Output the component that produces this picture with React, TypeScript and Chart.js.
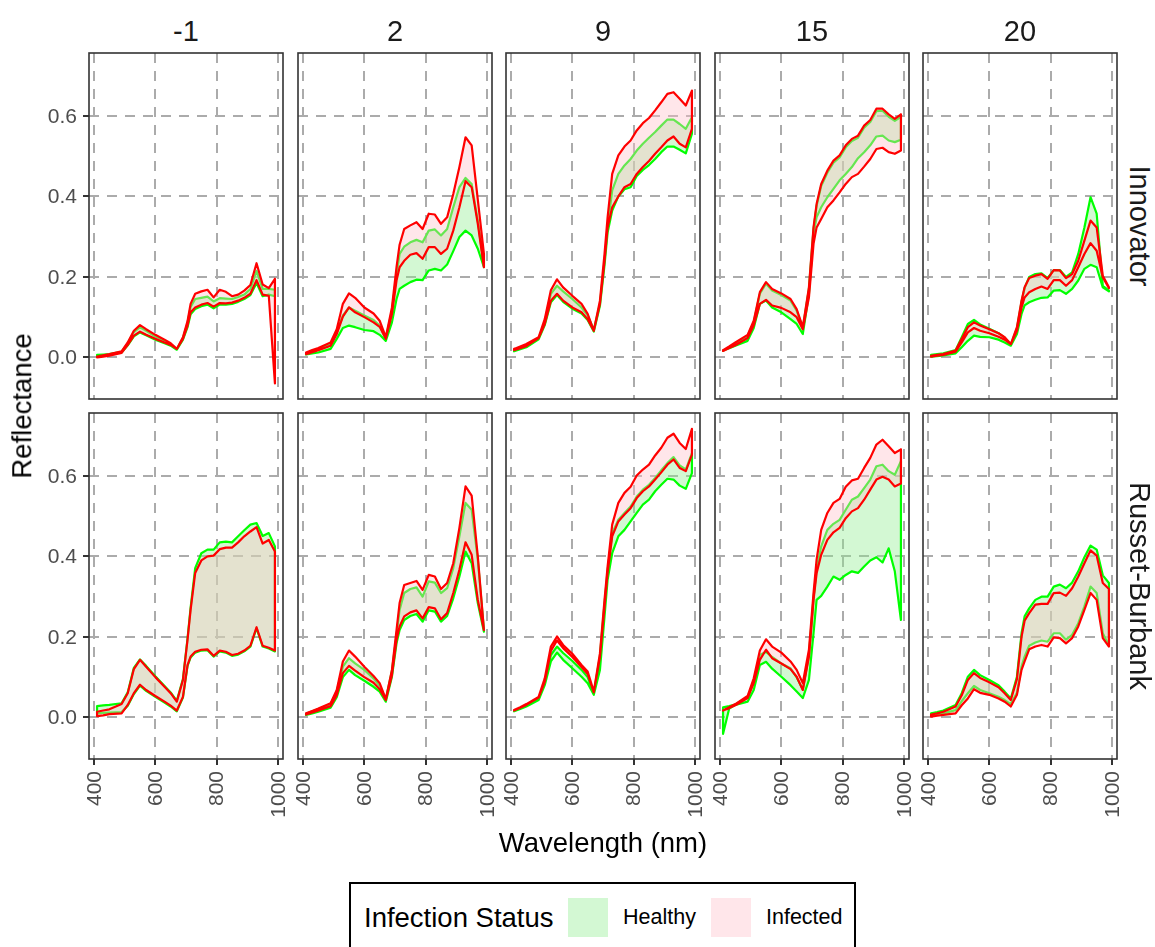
import React, { useEffect, useRef } from "react";
import { Chart, registerables } from "chart.js";

Chart.register(...registerables);

// ---------------- data ----------------
const WAVELENGTHS = [410, 430, 450, 490, 510, 530, 550, 570, 600, 630, 650, 670, 690, 705, 715, 730, 750, 770, 790, 810, 830, 850, 870, 890, 910, 930, 950, 970, 990];

const COLUMN_LABELS = ["-1", "2", "9", "15", "20"];
const ROW_LABELS = ["Innovator", "Russet-Burbank"];
const X_TICKS = [400, 600, 800, 1000];
const X_TICK_LABELS = ["400", "600", "800", "1000"];
const Y_TICKS = [0, 0.2, 0.4, 0.6];
const Y_TICK_LABELS = ["0.0", "0.2", "0.4", "0.6"];
const LEGEND_TITLE = "Infection Status";
const STATUS_LABELS = ["Healthy", "Infected"];

// Innovator, -1
const INN_M1_I_HI = [0.002, 0.005, 0.008, 0.015, 0.037, 0.066, 0.080, 0.070, 0.056, 0.044, 0.035, 0.021, 0.050, 0.090, 0.133, 0.158, 0.164, 0.168, 0.149, 0.168, 0.163, 0.152, 0.156, 0.166, 0.180, 0.234, 0.181, 0.172, 0.195];
const INN_M1_I_LO = [0.000, 0.002, 0.004, 0.011, 0.031, 0.054, 0.064, 0.056, 0.046, 0.037, 0.031, 0.021, 0.046, 0.079, 0.112, 0.124, 0.131, 0.135, 0.126, 0.135, 0.134, 0.136, 0.141, 0.148, 0.158, 0.192, 0.156, 0.153, -0.065];
const INN_M1_H_HI = [0.004, 0.006, 0.008, 0.014, 0.035, 0.063, 0.075, 0.066, 0.052, 0.041, 0.033, 0.020, 0.048, 0.085, 0.125, 0.145, 0.148, 0.151, 0.139, 0.147, 0.146, 0.145, 0.150, 0.156, 0.170, 0.215, 0.170, 0.170, 0.168];
const INN_M1_H_LO = [0.006, 0.007, 0.008, 0.012, 0.030, 0.052, 0.062, 0.055, 0.044, 0.035, 0.029, 0.019, 0.044, 0.075, 0.107, 0.120, 0.127, 0.131, 0.122, 0.131, 0.131, 0.133, 0.138, 0.145, 0.155, 0.185, 0.152, 0.156, 0.152];

// Innovator, 2
const INN_2_I_HI = [0.012, 0.018, 0.023, 0.037, 0.070, 0.133, 0.159, 0.148, 0.124, 0.109, 0.091, 0.050, 0.124, 0.224, 0.280, 0.319, 0.328, 0.336, 0.319, 0.357, 0.355, 0.332, 0.348, 0.406, 0.473, 0.547, 0.527, 0.392, 0.257];
const INN_2_I_LO = [0.008, 0.013, 0.018, 0.029, 0.058, 0.101, 0.124, 0.112, 0.100, 0.087, 0.076, 0.046, 0.108, 0.191, 0.224, 0.240, 0.255, 0.259, 0.245, 0.274, 0.274, 0.257, 0.270, 0.315, 0.373, 0.438, 0.423, 0.332, 0.224];
const INN_2_H_HI = [0.010, 0.015, 0.020, 0.032, 0.062, 0.104, 0.124, 0.116, 0.104, 0.093, 0.079, 0.047, 0.116, 0.207, 0.257, 0.275, 0.286, 0.292, 0.286, 0.315, 0.318, 0.303, 0.319, 0.373, 0.423, 0.446, 0.431, 0.340, 0.226];
const INN_2_H_LO = [0.007, 0.010, 0.012, 0.021, 0.046, 0.073, 0.079, 0.075, 0.068, 0.065, 0.056, 0.041, 0.087, 0.145, 0.170, 0.178, 0.187, 0.193, 0.192, 0.216, 0.220, 0.216, 0.231, 0.264, 0.299, 0.315, 0.303, 0.270, 0.224];

// Innovator, 9
const INN_9_I_HI = [0.021, 0.027, 0.033, 0.050, 0.095, 0.167, 0.194, 0.174, 0.153, 0.133, 0.108, 0.066, 0.141, 0.257, 0.348, 0.456, 0.502, 0.524, 0.539, 0.564, 0.582, 0.595, 0.614, 0.634, 0.655, 0.659, 0.643, 0.626, 0.663];
const INN_9_I_LO = [0.018, 0.023, 0.028, 0.048, 0.083, 0.141, 0.158, 0.141, 0.124, 0.112, 0.095, 0.066, 0.133, 0.240, 0.323, 0.373, 0.400, 0.423, 0.431, 0.456, 0.473, 0.488, 0.506, 0.522, 0.539, 0.549, 0.531, 0.522, 0.568];
const INN_9_H_HI = [0.018, 0.024, 0.030, 0.047, 0.088, 0.158, 0.178, 0.164, 0.145, 0.124, 0.104, 0.068, 0.133, 0.240, 0.323, 0.415, 0.456, 0.477, 0.493, 0.514, 0.531, 0.546, 0.560, 0.576, 0.591, 0.591, 0.580, 0.568, 0.597];
const INN_9_H_LO = [0.015, 0.020, 0.025, 0.045, 0.080, 0.137, 0.155, 0.138, 0.121, 0.109, 0.093, 0.064, 0.128, 0.230, 0.310, 0.365, 0.400, 0.418, 0.423, 0.451, 0.466, 0.478, 0.493, 0.510, 0.524, 0.524, 0.516, 0.507, 0.556];

// Innovator, 15
const INN_15_I_HI = [0.018, 0.027, 0.037, 0.056, 0.091, 0.162, 0.187, 0.170, 0.159, 0.145, 0.120, 0.075, 0.174, 0.323, 0.381, 0.431, 0.464, 0.489, 0.502, 0.527, 0.543, 0.551, 0.576, 0.590, 0.618, 0.618, 0.604, 0.593, 0.604];
const INN_15_I_LO = [0.016, 0.023, 0.030, 0.048, 0.080, 0.133, 0.143, 0.129, 0.123, 0.112, 0.100, 0.070, 0.149, 0.282, 0.323, 0.344, 0.373, 0.390, 0.410, 0.431, 0.448, 0.456, 0.474, 0.493, 0.518, 0.521, 0.510, 0.506, 0.514];
const INN_15_H_HI = [0.016, 0.025, 0.034, 0.053, 0.087, 0.158, 0.183, 0.166, 0.155, 0.141, 0.116, 0.072, 0.170, 0.318, 0.376, 0.426, 0.459, 0.484, 0.497, 0.522, 0.538, 0.546, 0.571, 0.585, 0.612, 0.613, 0.598, 0.588, 0.598];
const INN_15_H_LO = [0.017, 0.023, 0.029, 0.041, 0.073, 0.133, 0.141, 0.124, 0.112, 0.095, 0.083, 0.058, 0.158, 0.307, 0.348, 0.373, 0.398, 0.419, 0.440, 0.456, 0.473, 0.495, 0.510, 0.527, 0.549, 0.551, 0.539, 0.535, 0.541];

// Innovator, 20
const INN_20_I_HI = [0.004, 0.006, 0.008, 0.017, 0.046, 0.075, 0.087, 0.079, 0.070, 0.060, 0.050, 0.033, 0.075, 0.141, 0.174, 0.197, 0.203, 0.207, 0.195, 0.217, 0.216, 0.197, 0.207, 0.240, 0.290, 0.340, 0.323, 0.203, 0.174];
const INN_20_I_LO = [0.002, 0.004, 0.006, 0.014, 0.037, 0.062, 0.073, 0.066, 0.060, 0.051, 0.044, 0.033, 0.066, 0.124, 0.149, 0.162, 0.170, 0.176, 0.170, 0.192, 0.192, 0.178, 0.192, 0.224, 0.257, 0.284, 0.265, 0.199, 0.172];
const INN_20_H_HI = [0.006, 0.008, 0.010, 0.018, 0.050, 0.083, 0.093, 0.082, 0.071, 0.060, 0.049, 0.031, 0.072, 0.138, 0.172, 0.200, 0.207, 0.209, 0.197, 0.217, 0.217, 0.200, 0.211, 0.257, 0.323, 0.398, 0.357, 0.178, 0.166];
const INN_20_H_LO = [0.002, 0.003, 0.005, 0.010, 0.025, 0.041, 0.054, 0.051, 0.050, 0.044, 0.037, 0.029, 0.058, 0.108, 0.129, 0.137, 0.143, 0.148, 0.149, 0.166, 0.167, 0.158, 0.170, 0.191, 0.220, 0.230, 0.224, 0.174, 0.164];

// Russet-Burbank, -1
const RUS_M1_I_HI = [0.014, 0.017, 0.020, 0.033, 0.060, 0.120, 0.143, 0.126, 0.100, 0.076, 0.060, 0.039, 0.093, 0.193, 0.267, 0.359, 0.390, 0.400, 0.402, 0.418, 0.422, 0.422, 0.435, 0.450, 0.462, 0.473, 0.432, 0.441, 0.412];
const RUS_M1_I_LO = [0.003, 0.005, 0.008, 0.010, 0.031, 0.060, 0.081, 0.068, 0.053, 0.039, 0.029, 0.017, 0.051, 0.130, 0.151, 0.163, 0.168, 0.169, 0.153, 0.166, 0.163, 0.155, 0.158, 0.166, 0.178, 0.224, 0.178, 0.173, 0.166];
const RUS_M1_H_HI = [0.028, 0.030, 0.031, 0.035, 0.062, 0.123, 0.144, 0.128, 0.102, 0.078, 0.062, 0.041, 0.095, 0.196, 0.272, 0.371, 0.408, 0.417, 0.417, 0.435, 0.437, 0.435, 0.450, 0.465, 0.479, 0.483, 0.451, 0.458, 0.425];
const RUS_M1_H_LO = [0.010, 0.011, 0.012, 0.013, 0.029, 0.058, 0.079, 0.066, 0.051, 0.037, 0.027, 0.015, 0.049, 0.128, 0.149, 0.161, 0.166, 0.167, 0.151, 0.164, 0.161, 0.153, 0.156, 0.164, 0.176, 0.222, 0.176, 0.171, 0.164];

// Russet-Burbank, 2
const RUS_2_I_HI = [0.010, 0.016, 0.022, 0.035, 0.068, 0.139, 0.166, 0.151, 0.126, 0.103, 0.085, 0.045, 0.118, 0.217, 0.284, 0.329, 0.334, 0.339, 0.317, 0.354, 0.350, 0.319, 0.334, 0.383, 0.471, 0.574, 0.551, 0.400, 0.217];
const RUS_2_I_LO = [0.007, 0.012, 0.017, 0.028, 0.055, 0.110, 0.128, 0.116, 0.100, 0.086, 0.070, 0.043, 0.105, 0.193, 0.226, 0.251, 0.261, 0.266, 0.246, 0.274, 0.271, 0.244, 0.259, 0.309, 0.367, 0.435, 0.404, 0.292, 0.217];
const RUS_2_H_HI = [0.009, 0.015, 0.020, 0.033, 0.064, 0.126, 0.147, 0.134, 0.118, 0.097, 0.078, 0.045, 0.115, 0.205, 0.267, 0.309, 0.319, 0.323, 0.300, 0.338, 0.335, 0.309, 0.321, 0.371, 0.450, 0.533, 0.516, 0.392, 0.217];
const RUS_2_H_LO = [0.006, 0.010, 0.014, 0.024, 0.050, 0.100, 0.118, 0.105, 0.091, 0.076, 0.064, 0.039, 0.101, 0.184, 0.217, 0.242, 0.252, 0.257, 0.238, 0.266, 0.263, 0.238, 0.252, 0.296, 0.350, 0.412, 0.383, 0.284, 0.213];

// Russet-Burbank, 9
const RUS_9_I_HI = [0.018, 0.025, 0.033, 0.051, 0.097, 0.176, 0.201, 0.180, 0.158, 0.130, 0.114, 0.064, 0.159, 0.292, 0.375, 0.479, 0.533, 0.558, 0.573, 0.601, 0.616, 0.628, 0.651, 0.670, 0.695, 0.705, 0.682, 0.667, 0.717];
const RUS_9_I_LO = [0.017, 0.024, 0.031, 0.049, 0.088, 0.165, 0.191, 0.172, 0.150, 0.125, 0.108, 0.062, 0.150, 0.275, 0.360, 0.450, 0.487, 0.504, 0.520, 0.545, 0.562, 0.574, 0.591, 0.609, 0.628, 0.641, 0.620, 0.612, 0.653];
const RUS_9_H_HI = [0.016, 0.022, 0.029, 0.046, 0.085, 0.155, 0.176, 0.160, 0.140, 0.118, 0.100, 0.060, 0.152, 0.283, 0.365, 0.458, 0.491, 0.508, 0.524, 0.549, 0.566, 0.578, 0.595, 0.614, 0.632, 0.647, 0.626, 0.616, 0.657];
const RUS_9_H_LO = [0.015, 0.021, 0.027, 0.043, 0.080, 0.139, 0.161, 0.143, 0.122, 0.101, 0.085, 0.056, 0.118, 0.251, 0.342, 0.408, 0.450, 0.466, 0.487, 0.508, 0.529, 0.541, 0.562, 0.578, 0.593, 0.591, 0.576, 0.568, 0.607];

// Russet-Burbank, 15
const RUS_15_I_HI = [0.017, 0.025, 0.033, 0.053, 0.097, 0.166, 0.194, 0.176, 0.161, 0.139, 0.118, 0.085, 0.168, 0.309, 0.392, 0.466, 0.508, 0.533, 0.543, 0.573, 0.589, 0.593, 0.620, 0.645, 0.678, 0.690, 0.674, 0.657, 0.666];
const RUS_15_I_LO = [0.017, 0.023, 0.030, 0.048, 0.085, 0.143, 0.168, 0.147, 0.134, 0.120, 0.101, 0.068, 0.151, 0.292, 0.358, 0.404, 0.441, 0.460, 0.471, 0.495, 0.512, 0.520, 0.541, 0.566, 0.591, 0.598, 0.591, 0.574, 0.581];
const RUS_15_H_HI = [0.025, 0.028, 0.032, 0.050, 0.090, 0.155, 0.163, 0.150, 0.134, 0.122, 0.100, 0.070, 0.155, 0.297, 0.370, 0.425, 0.466, 0.481, 0.491, 0.516, 0.541, 0.549, 0.570, 0.591, 0.624, 0.628, 0.612, 0.603, 0.637];
const RUS_15_H_LO = [-0.041, 0.022, 0.031, 0.039, 0.068, 0.130, 0.138, 0.121, 0.101, 0.080, 0.064, 0.048, 0.093, 0.209, 0.292, 0.302, 0.325, 0.350, 0.342, 0.354, 0.363, 0.359, 0.375, 0.390, 0.398, 0.385, 0.420, 0.363, 0.242];

// Russet-Burbank, 20
const RUS_20_I_HI = [0.007, 0.010, 0.014, 0.027, 0.055, 0.093, 0.110, 0.098, 0.087, 0.075, 0.060, 0.043, 0.095, 0.200, 0.240, 0.259, 0.280, 0.282, 0.282, 0.309, 0.310, 0.302, 0.321, 0.350, 0.383, 0.415, 0.402, 0.334, 0.319];
const RUS_20_I_LO = [0.002, 0.004, 0.006, 0.010, 0.030, 0.047, 0.070, 0.061, 0.056, 0.047, 0.039, 0.027, 0.056, 0.118, 0.139, 0.169, 0.176, 0.180, 0.176, 0.199, 0.197, 0.184, 0.197, 0.226, 0.267, 0.309, 0.292, 0.197, 0.176];
const RUS_20_H_HI = [0.010, 0.013, 0.017, 0.031, 0.060, 0.101, 0.118, 0.105, 0.093, 0.080, 0.064, 0.047, 0.101, 0.209, 0.251, 0.271, 0.292, 0.300, 0.300, 0.325, 0.330, 0.321, 0.335, 0.363, 0.398, 0.427, 0.417, 0.353, 0.334];
const RUS_20_H_LO = [0.006, 0.008, 0.010, 0.018, 0.040, 0.060, 0.078, 0.068, 0.060, 0.051, 0.043, 0.033, 0.061, 0.126, 0.151, 0.178, 0.186, 0.191, 0.188, 0.209, 0.209, 0.193, 0.205, 0.234, 0.276, 0.325, 0.309, 0.209, 0.178];

type PanelData = { hHi: number[]; hLo: number[]; iHi: number[]; iLo: number[] };

const PANELS: PanelData[][] = [
  [
    { hHi: INN_M1_H_HI, hLo: INN_M1_H_LO, iHi: INN_M1_I_HI, iLo: INN_M1_I_LO },
    { hHi: INN_2_H_HI, hLo: INN_2_H_LO, iHi: INN_2_I_HI, iLo: INN_2_I_LO },
    { hHi: INN_9_H_HI, hLo: INN_9_H_LO, iHi: INN_9_I_HI, iLo: INN_9_I_LO },
    { hHi: INN_15_H_HI, hLo: INN_15_H_LO, iHi: INN_15_I_HI, iLo: INN_15_I_LO },
    { hHi: INN_20_H_HI, hLo: INN_20_H_LO, iHi: INN_20_I_HI, iLo: INN_20_I_LO },
  ],
  [
    { hHi: RUS_M1_H_HI, hLo: RUS_M1_H_LO, iHi: RUS_M1_I_HI, iLo: RUS_M1_I_LO },
    { hHi: RUS_2_H_HI, hLo: RUS_2_H_LO, iHi: RUS_2_I_HI, iLo: RUS_2_I_LO },
    { hHi: RUS_9_H_HI, hLo: RUS_9_H_LO, iHi: RUS_9_I_HI, iLo: RUS_9_I_LO },
    { hHi: RUS_15_H_HI, hLo: RUS_15_H_LO, iHi: RUS_15_I_HI, iLo: RUS_15_I_LO },
    { hHi: RUS_20_H_HI, hLo: RUS_20_H_LO, iHi: RUS_20_I_HI, iLo: RUS_20_I_LO },
  ],
];

// ---------------- layout & style ----------------
const FONT = "'Liberation Sans', Arial, Helvetica, sans-serif";
const COL_LEFT = [89, 298, 506, 715, 923];
const ROW_TOP = [53, 413];
const PANEL_W = 194;
const PANEL_H = 346;
const PADL = 80;
const PADR = 4;
const PADT = 4;
const PADB = 75;
const CW = PANEL_W + PADL + PADR;
const CH = PANEL_H + PADT + PADB;
const X_MIN = 383.7;
const X_MAX = 1016.3;
const Y_MIN = -0.1035;
const Y_MAX = 0.7565;

const GREEN = "#00FF00";
const RED = "#FF0000";
const HEALTHY_FILL = "rgba(144,238,144,0.4)";
const INFECTED_FILL = "rgba(255,192,203,0.4)";
const HEALTHY_KEY = "rgb(211,248,211)";
const INFECTED_KEY = "rgb(255,230,234)";
const GRID = "#ABABAB";
const LINE_W = 2.2;
const TICK_FONT = 21;

const decorPlugin = {
  id: "panelDecor",
  afterDraw(chart: any, _args: any, opts: any) {
    const { ctx, chartArea: a, scales } = chart;
    ctx.save();
    ctx.strokeStyle = "#333333";
    ctx.lineWidth = 1.6;
    ctx.setLineDash([]);
    ctx.strokeRect(a.left, a.top, a.right - a.left, a.bottom - a.top);
    ctx.fillStyle = "#4D4D4D";
    ctx.font = `${TICK_FONT}px ${FONT}`;
    if (opts.showY) {
      ctx.textAlign = "right";
      ctx.textBaseline = "middle";
      Y_TICKS.forEach((v, i) => {
        const y = scales.y.getPixelForValue(v);
        ctx.fillText(Y_TICK_LABELS[i], a.left - 12, y + 1);
      });
    }
    if (opts.showX) {
      X_TICKS.forEach((v, i) => {
        const x = scales.x.getPixelForValue(v);
        ctx.save();
        ctx.translate(x + 1, a.bottom + 12);
        ctx.rotate(-Math.PI / 2);
        ctx.textAlign = "right";
        ctx.textBaseline = "middle";
        ctx.fillText(X_TICK_LABELS[i], 0, 0);
        ctx.restore();
      });
    }
    ctx.restore();
  },
};

function pts(arr: number[]) {
  return arr.map((y, i) => ({ x: WAVELENGTHS[i], y }));
}
function ring(hi: number[], lo: number[]) {
  return [...pts(hi), ...pts(lo).reverse(), { x: WAVELENGTHS[0], y: hi[0] }];
}

function buildConfig(p: PanelData, showX: boolean, showY: boolean): any {
  const hidden = "rgba(0,0,0,0)";
  const outline = (color: string) => ({
    borderColor: color,
    borderWidth: LINE_W,
    borderJoinStyle: "round",
    borderCapStyle: "round",
    fill: false,
    pointRadius: 0,
    tension: 0,
  });
  const band = (fill: string | false, bg: string) => ({
    borderColor: hidden,
    borderWidth: 0,
    backgroundColor: bg,
    fill,
    pointRadius: 0,
    tension: 0,
  });
  return {
    type: "line",
    data: {
      datasets: [
        { label: "Infected outline", data: ring(p.iHi, p.iLo), ...outline(RED) },
        { label: "Infected upper", data: pts(p.iHi), ...band("+1", INFECTED_FILL) },
        { label: "Infected lower", data: pts(p.iLo), ...band(false, hidden) },
        { label: "Healthy outline", data: ring(p.hHi, p.hLo), ...outline(GREEN) },
        { label: "Healthy upper", data: pts(p.hHi), ...band("+1", HEALTHY_FILL) },
        { label: "Healthy lower", data: pts(p.hLo), ...band(false, hidden) },
      ],
    },
    plugins: [decorPlugin],
    options: {
      responsive: false,
      animation: false,
      devicePixelRatio: 1,
      events: [],
      layout: { padding: { top: PADT, right: PADR, left: 0, bottom: 0 } },
      plugins: {
        legend: { display: false },
        tooltip: { enabled: false },
        panelDecor: { showX, showY },
      },
      scales: {
        x: {
          type: "linear",
          min: X_MIN,
          max: X_MAX,
          afterBuildTicks: (s: any) => {
            s.ticks = X_TICKS.map((v) => ({ value: v }));
          },
          afterFit: (s: any) => {
            s.height = PADB;
            s.paddingLeft = 0;
            s.paddingRight = 0;
          },
          ticks: { display: false },
          grid: {
            color: GRID,
            lineWidth: 2,
            drawTicks: showX,
            tickLength: 6,
            tickColor: "#333333",
            tickWidth: 2,
            tickBorderDash: [],
          },
          border: { display: false, dash: [10, 8] },
        },
        y: {
          type: "linear",
          min: Y_MIN,
          max: Y_MAX,
          afterBuildTicks: (s: any) => {
            s.ticks = Y_TICKS.map((v) => ({ value: v }));
          },
          afterFit: (s: any) => {
            s.width = PADL;
            s.paddingTop = 0;
            s.paddingBottom = 0;
          },
          ticks: { display: false },
          grid: {
            color: GRID,
            lineWidth: 2,
            drawTicks: showY,
            tickLength: 6,
            tickColor: "#333333",
            tickWidth: 2,
            tickBorderDash: [],
          },
          border: { display: false, dash: [10, 8] },
        },
      },
    },
  };
}

function Panel(props: { data: PanelData; left: number; top: number; showX: boolean; showY: boolean }) {
  const ref = useRef<HTMLCanvasElement | null>(null);
  useEffect(() => {
    if (!ref.current) return;
    const chart = new Chart(ref.current, buildConfig(props.data, props.showX, props.showY));
    return () => chart.destroy();
  }, []);
  return (
    <canvas
      ref={ref}
      width={CW}
      height={CH}
      style={{ position: "absolute", left: props.left - PADL, top: props.top - PADT, width: CW, height: CH }}
    />
  );
}

function Label(props: { text: string; x: number; y: number; size: number; rotate?: number; color?: string; align?: "center" | "left" }) {
  const { text, x, y, size, rotate = 0, color = "#000", align = "center" } = props;
  const tx = align === "center" ? "-50%" : "0";
  return (
    <div
      style={{
        position: "absolute",
        left: x,
        top: y,
        transform: `translate(${tx}, -50%) rotate(${rotate}deg)`,
        fontFamily: FONT,
        fontSize: size,
        lineHeight: 1,
        color,
        whiteSpace: "nowrap",
      }}
    >
      {text}
    </div>
  );
}

export default function App() {
  const panels: React.ReactNode[] = [];
  PANELS.forEach((row, r) =>
    row.forEach((p, c) => {
      panels.push(
        <Panel key={`${r}-${c}`} data={p} left={COL_LEFT[c]} top={ROW_TOP[r]} showX={r === 1} showY={c === 0} />
      );
    })
  );
  return (
    <div
      style={{
        position: "fixed",
        left: 0,
        top: 0,
        width: 1155,
        height: 947,
        overflow: "hidden",
        background: "#FFFFFF",
      }}
    >
      {panels}
      {COLUMN_LABELS.map((t, c) => (
        <Label key={t} text={t} x={COL_LEFT[c] + PANEL_W / 2} y={31} size={29} color="#1A1A1A" />
      ))}
      {ROW_LABELS.map((t, r) => (
        <Label key={t} text={t} x={1139} y={ROW_TOP[r] + PANEL_H / 2} size={29} rotate={90} color="#1A1A1A" />
      ))}
      <Label text="Reflectance" x={22} y={406} size={27.5} rotate={-90} />
      <Label text="Wavelength (nm)" x={603} y={843} size={27.5} />
      <div
        style={{
          position: "absolute",
          left: 349,
          top: 882,
          width: 507,
          height: 100,
          border: "2px solid #000",
          boxSizing: "border-box",
        }}
      />
      <Label text={LEGEND_TITLE} x={364} y={918} size={27.5} align="left" />
      <div style={{ position: "absolute", left: 568, top: 898, width: 40, height: 39, background: HEALTHY_KEY }} />
      <Label text={STATUS_LABELS[0]} x={623} y={918} size={21.5} align="left" />
      <div style={{ position: "absolute", left: 711, top: 898, width: 40, height: 39, background: INFECTED_KEY }} />
      <Label text={STATUS_LABELS[1]} x={766} y={918} size={21.5} align="left" />
    </div>
  );
}
